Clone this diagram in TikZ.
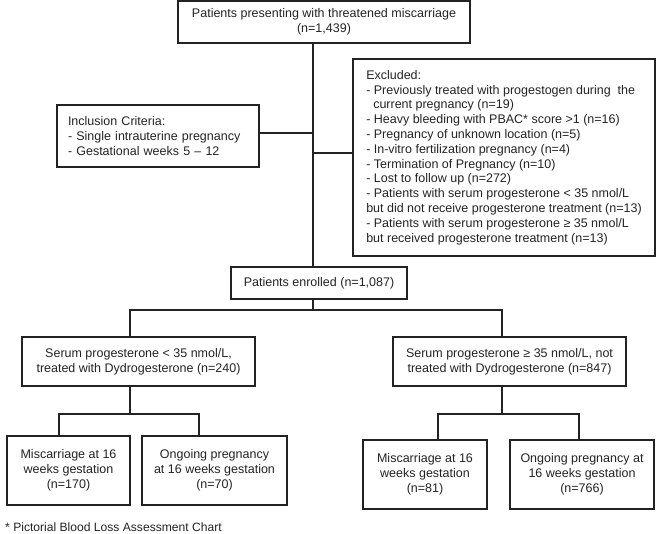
\documentclass[tikz,border=0pt]{standalone}
\usepackage{fontspec}
\setmainfont{Liberation Sans}
\usepackage{tikz}
\definecolor{ink}{HTML}{232323}
\newcommand{\chartfont}{\fontsize{12.5}{14.8}\selectfont}

\begin{document}
\begin{tikzpicture}[x=1pt,y=-1pt,
    box/.style={draw=ink,line width=1.7pt,inner sep=0pt,align=center,font=\chartfont,text=ink},
    link/.style={draw=ink,line width=1.5pt}]
        \useasboundingbox (0,0) rectangle (660,534);

        % boxes
        \node[box,minimum width=292pt,minimum height=42pt] (top) at (324,22) {Patients presenting with threatened miscarriage\\(n=1,439)};
        \node[box,align=left,text width=180pt,inner xsep=11pt,minimum height=62pt] (inc) at (158,136) {Inclusion Criteria:\\- Single intrauterine pregnancy\\- Gestational weeks 5 -- 12};
        \node[box,align=left,minimum width=302pt,minimum height=197pt] (exc) at (504,157.5) {Excluded:\\- Previously treated with progestogen during \ the\\\hspace*{7pt}current pregnancy (n=19)\\- Heavy bleeding with PBAC* score >1 (n=16)\\- Pregnancy of unknown location (n=5)\\- In-vitro fertilization pregnancy (n=4)\\- Termination of Pregnancy (n=10)\\- Lost to follow up (n=272)\\- Patients with serum progesterone < 35 nmol/L\\but did not receive progesterone treatment (n=13)\\- Patients with serum progesterone ≥ 35 nmol/L\\but received progesterone treatment (n=13)};
        \node[box,minimum width=176pt,minimum height=32pt] (enr) at (319,283) {Patients enrolled (n=1,087)};
        \node[box,minimum width=233pt,minimum height=49pt] (serL) at (138.5,361.5) {Serum progesterone < 35 nmol/L,\\treated with Dydrogesterone (n=240)};
        \node[box,minimum width=233pt,minimum height=49pt] (serR) at (509.5,361.5) {Serum progesterone ≥ 35 nmol/L, not\\treated with Dydrogesterone (n=847)};
        \node[box,minimum width=123pt,minimum height=69pt] (misL) at (68.5,470.5) {Miscarriage at 16\\weeks gestation\\(n=170)};
        \node[box,minimum width=145pt,minimum height=69pt] (ongL) at (214.5,470.5) {Ongoing pregnancy\\at 16 weeks gestation\\(n=70)};
        \node[box,minimum width=124pt,minimum height=69pt] (misR) at (425,474.5) {Miscarriage at 16\\weeks gestation\\(n=81)};
        \node[box,minimum width=144pt,minimum height=69pt] (ongR) at (582,474.5) {Ongoing pregnancy at\\16 weeks gestation\\(n=766)};
        \node[anchor=west,inner sep=0pt,font=\fontsize{12.1}{14}\selectfont,text=ink] (note) at (5,527) {* Pictorial Blood Loss Assessment Chart};

        % junction points
        \coordinate (spine) at (313,0);
        \coordinate (incj) at (313,133);
        \coordinate (excj) at (313,153);
        \coordinate (bar) at (0,310);
        \coordinate (legL) at (130,310);
        \coordinate (legR) at (502,310);
        \coordinate (kidA) at (59,414);
        \coordinate (kidB) at (199,414);
        \coordinate (kidC) at (438,414);
        \coordinate (kidD) at (579,414);

        % connectors
        \draw[link] (spine |- top.south) -- (spine |- enr.north);
        \draw[link] (incj -| inc.east) -- (incj);
        \draw[link] (excj) -- (excj -| exc.west);
        \draw[link] (spine |- enr.south) -- (spine |- bar);
        \draw[link] (legL |- serL.north) -- (legL) -- (legR) -- (legR |- serR.north);
        \draw[link] (legL |- serL.south) -- (legL |- kidA);
        \draw[link] (kidA |- misL.north) -- (kidA) -- (kidB) -- (kidB |- ongL.north);
        \draw[link] (legR |- serR.south) -- (legR |- kidC);
        \draw[link] (kidC |- misR.north) -- (kidC) -- (kidD) -- (kidD |- ongR.north);
\end{tikzpicture}
\end{document}
